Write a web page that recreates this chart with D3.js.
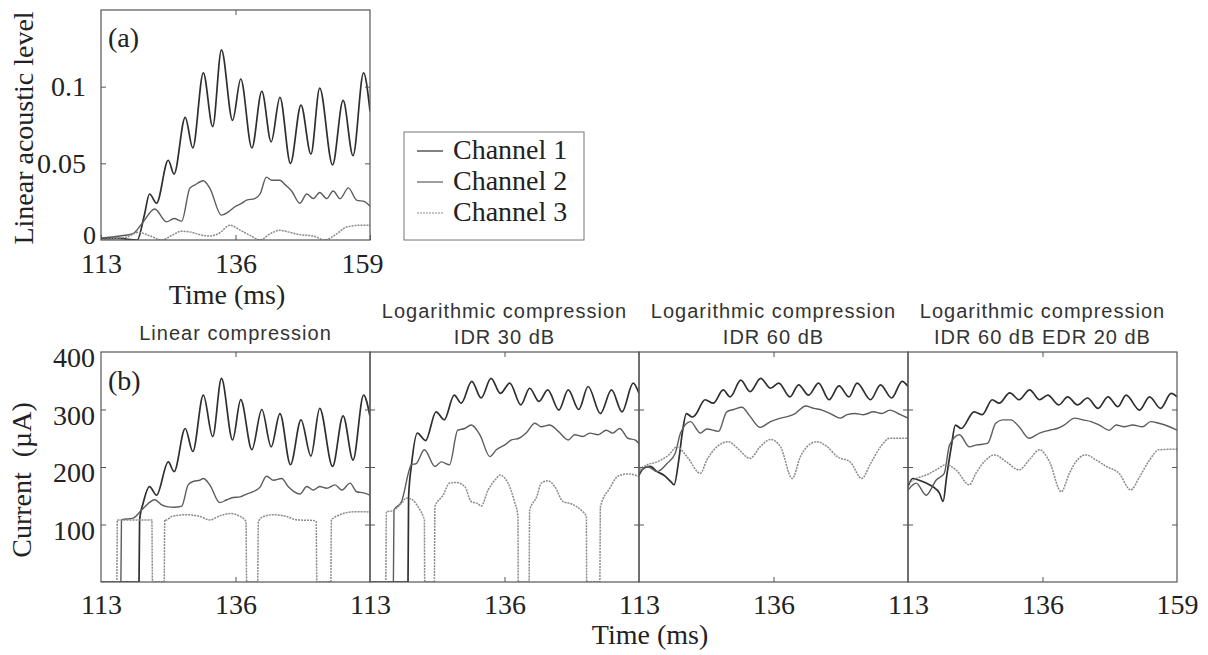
<!DOCTYPE html>
<html lang="en">
<head>
  <meta charset="UTF-8">
  <title>Acoustic level and current per channel</title>
  <script src="https://d3js.org/d3.v7.min.js"></script>
  <style>
    body { margin: 0; background: #fff; }
  </style>
</head>
<body>
  <script>
    "use strict";
    // ---- data (time in ms, value) ----
    var timeTicks = [113, 136, 159];
    var acousticTicks = [0, 0.05, 0.1];
    var currentTicks = [100, 200, 300, 400];
    var channelNames = ["Channel 1", "Channel 2", "Channel 3"];
    var panelTitles = [
      ["Linear compression"],
      ["Logarithmic compression", "IDR 30 dB"],
      ["Logarithmic compression", "IDR 60 dB"],
      ["Logarithmic compression", "IDR 60 dB EDR 20 dB"]
    ];

    // (a) linear acoustic level
    var acoCh1 = [[113,0.001],[116,0.001],[119.2,0.0],[120.4,0.016],[121.3,0.030],[122.5,0.024],[124.5,0.052],[125.5,0.043],[127.4,0.080],[128.7,0.060],[130.5,0.109],[132.1,0.074],[133.6,0.124],[135.5,0.078],[136.9,0.105],[138.8,0.060],[140.5,0.097],[142.1,0.064],[143.6,0.093],[145.4,0.050],[147.2,0.088],[148.9,0.056],[150.4,0.099],[152.6,0.049],[154.4,0.091],[156.1,0.055],[157.9,0.109],[159,0.084]];
    var acoCh2 = [[113,0.0013],[116.2,0.0026],[118.5,0.0042],[120.0,0.0107],[122.2,0.0202],[124.2,0.0118],[125.5,0.014],[126.8,0.0123],[128.2,0.0338],[129.1,0.036],[130.5,0.0386],[131.6,0.0338],[133.6,0.0162],[134.8,0.0184],[135.9,0.0217],[137.1,0.024],[137.9,0.026],[139.3,0.027],[140.2,0.030],[141.3,0.041],[142.2,0.039],[143.6,0.039],[144.5,0.036],[145.6,0.032],[147.0,0.024],[148.2,0.030],[149.3,0.027],[150.4,0.031],[151.6,0.027],[152.7,0.032],[153.9,0.027],[155.3,0.034],[156.7,0.026],[158.1,0.025],[159,0.022]];
    var acoCh3 = [[113,0.0004],[117.4,0.002],[119.4,0.005],[121.4,0.0026],[123.4,0.0],[125.1,0.003],[126.8,0.0057],[128.2,0.0053],[129.9,0.0035],[131.6,0.0026],[133.1,0.0042],[135.1,0.0096],[136.8,0.0064],[138.5,0.003],[140.2,0.0],[141.9,0.004],[143.6,0.0063],[145.0,0.0053],[147.0,0.0035],[149.3,0.0026],[151.3,0.0],[153.3,0.004],[155.0,0.0085],[157.3,0.0096],[159,0.0096]];

    // (b) current, linear compression
    var linCh1 = [[113,0],[119.5,0],[119.6,108],[120.2,137],[121.3,166],[122.5,151],[124.5,209],[125.5,192],[127.4,267],[128.7,227],[130.5,325],[132.1,253],[133.6,354],[135.5,247],[136.9,317],[138.8,230],[140.5,300],[142.1,235],[143.6,293],[145.4,204],[147.2,282],[148.9,219],[150.4,302],[152.6,201],[154.4,289],[156.1,212],[157.9,325],[159,288]];
    var linCh2 = [[113,0],[116.4,0],[116.5,108],[118.5,111],[120.2,128],[122.2,143],[123.4,134],[124.2,131],[125.5,130],[126.8,132],[127.9,169],[128.8,175],[129.9,177],[130.5,180],[131.6,169],[133.3,138],[134.5,143],[135.6,147],[136.8,148],[137.9,153],[139.0,157],[140.2,165],[141.3,184],[142.5,177],[143.9,180],[145.0,166],[147.0,153],[148.2,166],[149.3,160],[150.4,166],[151.6,163],[153.0,169],[154.2,160],[155.6,172],[156.7,157],[157.9,155],[159,151]];
    var linCh3 = [[113,0],[115.7,0],[115.8,108],[121.7,108],[121.8,0],[123.8,0],[123.9,108],[124.2,108],[125.1,114],[127.6,117],[129.9,114],[131.6,108],[133.3,115],[135.1,119],[136.8,114],[137.8,105],[137.9,0],[139.8,0],[139.9,105],[140.8,114],[142.5,117],[144.7,114],[146.5,108],[149.3,107],[149.8,105],[149.9,0],[152.3,0],[152.4,108],[153.9,117],[156.1,122],[158.4,122],[159,121]];

    // (b) logarithmic compression, IDR 30 dB
    var log30Ch1 = [[113,0],[119.5,0],[119.6,148],[120.1,204],[121.1,259],[122.5,246],[124.3,296],[125.7,282],[127.4,325],[128.6,311],[130.4,349],[132.0,320],[133.7,354],[135.3,328],[136.9,346],[138.8,308],[140.3,337],[141.9,314],[143.4,334],[145.3,299],[146.9,334],[148.7,300],[150.3,340],[152.4,293],[154.3,334],[156.1,296],[158.0,346],[159,328]];
    var log30Ch2 = [[113,0],[117.0,0],[117.1,125],[118.4,140],[120.1,204],[120.9,206],[122.3,230],[124.1,201],[125.2,209],[126.6,204],[128.0,264],[129.2,267],[130.3,273],[131.8,256],[133.5,218],[134.6,230],[136.0,238],[137.2,247],[138.5,250],[139.7,259],[141.2,276],[142.3,270],[143.7,273],[145.2,262],[146.9,247],[148.0,256],[149.4,253],[150.6,259],[152.0,256],[153.4,264],[154.5,259],[155.7,267],[157.1,250],[158.3,247],[159,241]];
    var log30Ch3 = [[113,0],[115.7,0],[115.8,122],[116.9,124],[118.4,137],[119.2,146],[120.1,144],[121.2,131],[122.1,114],[122.3,108],[122.35,0],[124.0,0],[124.1,131],[125.5,151],[126.6,172],[127.8,173],[129.2,166],[130.3,140],[131.5,136],[132.0,132],[133.2,160],[134.6,180],[135.2,186],[136.6,172],[137.7,140],[138.3,114],[138.35,0],[140.2,0],[140.3,125],[141.5,148],[142.3,172],[143.4,176],[144.6,166],[146.0,140],[147.4,136],[149.1,125],[150.0,114],[150.05,0],[152.3,0],[152.4,131],[154.0,163],[155.4,184],[157.1,188],[158.3,186],[159,183]];

    // (b) logarithmic compression, IDR 60 dB
    var log60Ch1 = [[113,186],[113.8,198],[114.9,201],[116.1,192],[117.2,186],[118.4,175],[119.0,169],[119.8,212],[120.4,259],[121.1,293],[122.1,287],[122.6,290],[124.3,317],[125.7,311],[127.4,334],[128.6,322],[130.4,351],[132.0,331],[133.8,354],[135.5,337],[136.9,346],[138.8,322],[140.3,343],[142.0,325],[143.7,346],[145.5,317],[147.2,341],[148.9,322],[150.3,346],[152.6,317],[154.3,343],[156.2,320],[158.0,349],[159,340]];
    var log60Ch2 = [[113,189],[114.4,201],[116.1,192],[117.8,206],[119.2,224],[120.1,259],[121.8,279],[123.5,259],[124.6,266],[126.6,262],[128.0,296],[129.2,300],[130.6,304],[132.0,288],[133.7,269],[135.5,279],[137.2,285],[138.5,288],[139.7,293],[141.5,306],[142.9,302],[144.3,299],[145.7,293],[147.4,285],[148.6,291],[150.0,293],[151.4,291],[153.1,296],[154.5,293],[155.9,299],[157.7,291],[159,285]];
    var log60Ch3 = [[113,195],[114.4,204],[116.1,209],[118.1,221],[119.5,235],[121.2,218],[123.5,189],[124.6,212],[126.3,235],[128.3,244],[129.8,233],[132.0,215],[133.7,235],[135.5,248],[137.2,235],[139.2,180],[140.6,218],[141.7,235],[143.4,244],[145.2,235],[146.9,218],[149.1,209],[151.1,180],[152.6,206],[154.3,235],[155.9,250],[159,250]];

    // (b) logarithmic compression, IDR 60 dB EDR 20 dB
    var edrCh1 = [[113,166],[113.8,180],[114.9,177],[116.1,172],[117.2,166],[118.4,154],[119.0,140],[119.6,183],[120.4,235],[121.1,273],[122.1,267],[124.3,296],[125.7,291],[127.4,317],[128.6,311],[130.4,329],[132.0,317],[133.8,334],[135.5,317],[136.9,325],[138.8,308],[140.3,322],[142.0,308],[143.7,320],[145.5,302],[147.2,322],[148.9,305],[150.3,325],[152.6,299],[154.3,322],[156.2,302],[158.0,328],[159,322]];
    var edrCh2 = [[113,160],[114.4,172],[116.1,151],[117.8,177],[119.2,189],[120.1,238],[121.8,256],[123.5,235],[124.6,238],[126.6,241],[128.0,276],[129.2,282],[130.6,282],[132.0,270],[133.7,250],[135.5,259],[137.2,264],[138.5,267],[139.7,273],[141.5,285],[142.9,282],[144.3,279],[145.7,273],[147.4,264],[148.6,273],[150.0,270],[151.4,273],[153.1,270],[154.5,279],[155.9,276],[157.7,270],[159,264]];
    var edrCh3 = [[113,172],[114.4,180],[116.1,186],[117.8,195],[119.5,204],[121.2,195],[123.5,169],[124.6,189],[126.3,212],[127.8,221],[129.8,209],[132.0,195],[133.7,212],[135.5,230],[137.2,209],[139.2,157],[140.6,189],[141.7,209],[143.4,221],[145.2,212],[146.9,201],[149.1,189],[151.1,160],[152.6,183],[154.3,212],[155.9,230],[159,231]];

    var currentPanels = [
      [linCh1, linCh2, linCh3],
      [log30Ch1, log30Ch2, log30Ch3],
      [log60Ch1, log60Ch2, log60Ch3],
      [edrCh1, edrCh2, edrCh3]
    ];

    // ---- styles ----
    var serif = '"Liberation Serif", "Times New Roman", serif';
    var sans = '"Liberation Sans", Arial, sans-serif';
    var lineStyles = [
      { stroke: '#2f2f2f', width: 1.7, dash: null },
      { stroke: '#5c5c5c', width: 1.4, dash: null },
      { stroke: '#8a8a8a', width: 1.5, dash: '2,1' }
    ];
    var boxColor = '#555';

    var svg = d3.select('body').append('svg')
      .attr('width', 1208)
      .attr('height', 655)
      .style('font-family', serif);

    function styleAxis(g, size) {
      g.select('.domain').remove();
      g.selectAll('.tick line').attr('stroke', boxColor);
      g.selectAll('.tick text')
        .attr('font-family', serif)
        .attr('font-size', size)
        .attr('fill', '#222');
    }

    function drawLines(g, series, x, y, clipId) {
      var line = d3.line()
        .x(function (d) { return x(d[0]); })
        .y(function (d) { return y(d[1]); })
        .curve(d3.curveMonotoneX);
      g.append('g').attr('clip-path', 'url(#' + clipId + ')')
        .selectAll('path')
        .data(series)
        .enter().append('path')
        .attr('fill', 'none')
        .attr('stroke', function (d, i) { return lineStyles[i].stroke; })
        .attr('stroke-width', function (d, i) { return lineStyles[i].width; })
        .attr('stroke-dasharray', function (d, i) { return lineStyles[i].dash; })
        .attr('stroke-linejoin', 'round')
        .attr('d', line);
    }

    function addClip(id, x0, y0, w, h) {
      svg.append('clipPath').attr('id', id)
        .append('rect').attr('x', x0).attr('y', y0).attr('width', w).attr('height', h);
    }

    // ================= panel (a) =================
    var ax = d3.scaleLinear().domain([113, 159]).range([101, 370]);
    var ay = d3.scaleLinear().domain([0, 0.15]).range([240, 10]);

    addClip('clipA', 101, 10, 269, 230);
    drawLines(svg, [acoCh1, acoCh2, acoCh3], ax, ay, 'clipA');

    svg.append('rect')
      .attr('x', 101).attr('y', 10).attr('width', 269).attr('height', 230)
      .attr('fill', 'none').attr('stroke', boxColor).attr('stroke-width', 1.2);

    var aBottom = svg.append('g').attr('transform', 'translate(0,240)')
      .call(d3.axisBottom(ax).tickValues(timeTicks).tickSize(-5).tickPadding(13).tickFormat(d3.format('d')));
    styleAxis(aBottom, 28);
    aBottom.selectAll('.tick text').filter(function (d) { return d === 159; }).attr('dx', -8);

    var aTop = svg.append('g').attr('transform', 'translate(0,10)')
      .call(d3.axisTop(ax).tickValues([136]).tickSize(-5).tickFormat(''));
    styleAxis(aTop, 28);

    var aLeft = svg.append('g').attr('transform', 'translate(101,0)')
      .call(d3.axisLeft(ay).tickValues(acousticTicks).tickSize(-5).tickPadding(15)
        .tickFormat(function (d) { return d === 0 ? '0' : String(d); }));
    styleAxis(aLeft, 28);
    aLeft.selectAll('.tick line').filter(function (d) { return d === 0; }).remove();
    aLeft.selectAll('.tick text').filter(function (d) { return d === 0; })
      .attr('x', -5).attr('dy', '0.12em').attr('font-size', 26);

    var aRight = svg.append('g').attr('transform', 'translate(370,0)')
      .call(d3.axisRight(ay).tickValues([0.05, 0.1]).tickSize(-5).tickFormat(''));
    styleAxis(aRight, 28);

    svg.append('text')
      .attr('x', 108).attr('y', 47)
      .attr('font-size', 28).attr('fill', '#222')
      .text('(a)');

    svg.append('text')
      .attr('x', 227).attr('y', 304)
      .attr('text-anchor', 'middle')
      .attr('font-size', 28).attr('fill', '#222')
      .text('Time (ms)');

    svg.append('text')
      .attr('transform', 'translate(33,128) rotate(-90)')
      .attr('text-anchor', 'middle')
      .attr('font-size', 28).attr('fill', '#222')
      .text('Linear acoustic level');

    // legend
    var legend = svg.append('g');
    legend.append('rect')
      .attr('x', 404).attr('y', 132).attr('width', 180).attr('height', 108)
      .attr('fill', '#fff').attr('stroke', '#777').attr('stroke-width', 1);
    var rows = legend.selectAll('g.row').data(channelNames).enter().append('g')
      .attr('class', 'row')
      .attr('transform', function (d, i) { return 'translate(0,' + (159 + i * 31) + ')'; });
    rows.append('line')
      .attr('x1', 417).attr('x2', 443).attr('y1', -8).attr('y2', -8)
      .attr('stroke', function (d, i) { return lineStyles[i].stroke; })
      .attr('stroke-width', 1.2)
      .attr('stroke-dasharray', function (d, i) { return lineStyles[i].dash; });
    rows.append('text')
      .attr('x', 453).attr('y', 0)
      .attr('font-size', 28).attr('fill', '#222')
      .text(function (d) { return d; });

    // ================= panel (b) =================
    var bLeft = 101, bWidth = 269, bTop = 352, bBottom = 582;
    var by = d3.scaleLinear().domain([0, 400]).range([bBottom, bTop]);

    currentPanels.forEach(function (series, i) {
      var x0 = bLeft + i * bWidth;
      var bx = d3.scaleLinear().domain([113, 159]).range([x0, x0 + bWidth]);
      var clipId = 'clipB' + i;
      addClip(clipId, x0, bTop, bWidth, bBottom - bTop);
      drawLines(svg, series, bx, by, clipId);

      svg.append('rect')
        .attr('x', x0).attr('y', bTop).attr('width', bWidth).attr('height', bBottom - bTop)
        .attr('fill', 'none').attr('stroke', boxColor).attr('stroke-width', 1.2);

      var bottom = svg.append('g').attr('transform', 'translate(0,' + bBottom + ')')
        .call(d3.axisBottom(bx).tickValues(i === 3 ? timeTicks : timeTicks.slice(0, 2))
          .tickSize(-5).tickPadding(12).tickFormat(d3.format('d')));
      styleAxis(bottom, 28);
      bottom.selectAll('.tick line').filter(function (d) { return d !== 136; }).remove();

      var top = svg.append('g').attr('transform', 'translate(0,' + bTop + ')')
        .call(d3.axisTop(bx).tickValues([136]).tickSize(-5).tickFormat(''));
      styleAxis(top, 28);

      var left = svg.append('g').attr('transform', 'translate(' + x0 + ',0)')
        .call(d3.axisLeft(by).tickValues(i === 0 ? currentTicks : currentTicks.slice(0, 3))
          .tickSize(-5).tickPadding(6).tickFormat(i === 0 ? d3.format('d') : ''));
      styleAxis(left, 28);
      left.selectAll('.tick text').attr('dy', '0.52em');
      left.selectAll('.tick line').filter(function (d) { return d === 400; }).remove();

      var right = svg.append('g').attr('transform', 'translate(' + (x0 + bWidth) + ',0)')
        .call(d3.axisRight(by).tickValues(currentTicks.slice(0, 3)).tickSize(-5).tickFormat(''));
      styleAxis(right, 28);

      // panel title
      var lines = panelTitles[i];
      var title = svg.append('text')
        .attr('text-anchor', 'middle')
        .attr('font-family', sans)
        .attr('font-size', 20)
        .attr('letter-spacing', 1)
        .attr('fill', '#333');
      lines.forEach(function (t, k) {
        title.append('tspan')
          .attr('x', x0 + bWidth / 2)
          .attr('y', lines.length === 1 ? 340 : 318 + k * 26)
          .text(t);
      });
    });

    svg.append('text')
      .attr('x', 108).attr('y', 390)
      .attr('font-size', 28).attr('fill', '#222')
      .text('(b)');

    svg.append('text')
      .attr('x', 650).attr('y', 644)
      .attr('text-anchor', 'middle')
      .attr('font-size', 28).attr('fill', '#222')
      .text('Time (ms)');

    svg.append('text')
      .attr('transform', 'translate(31,480) rotate(-90)')
      .attr('text-anchor', 'middle')
      .attr('font-size', 28).attr('fill', '#222')
      .attr('word-spacing', 8)
      .text('Current (\u00b5A)');
  </script>
</body>
</html>
